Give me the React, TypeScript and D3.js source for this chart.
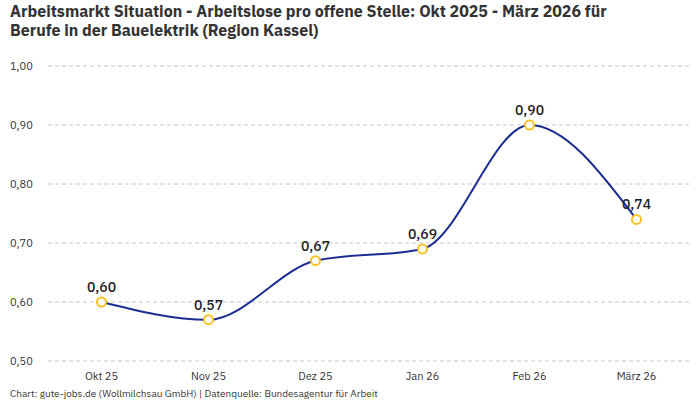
import { useEffect, useRef } from 'react';
import * as d3 from 'd3';

const months = ['Okt 25', 'Nov 25', 'Dez 25', 'Jan 26', 'Feb 26', 'März 26'];
const ratio = [0.6, 0.57, 0.67, 0.69, 0.9, 0.74];
const yTicks = [0.5, 0.6, 0.7, 0.8, 0.9, 1.0];

const titleLines = [
	'Arbeitsmarkt Situation - Arbeitslose pro offene Stelle: Okt 2025 - März 2026 für',
	'Berufe in der Bauelektrik (Region Kassel)',
];
const footer = 'Chart: gute-jobs.de (Wollmilchsau GmbH) | Datenquelle: Bundesagentur für Arbeit';

const fmt = (v: number) => v.toFixed(2).replace('.', ',');

export default function App() {
	const svgRef = useRef<SVGSVGElement>(null);

	useEffect(() => {
		if (!svgRef.current) return;
		const width = 700;
		const height = 400;
		const font = '"IBM Plex Sans", "Noto Sans", sans-serif';

		d3.select(svgRef.current).selectAll('*').remove();
		const svg = d3.select(svgRef.current).attr('width', width).attr('height', height).style('font-family', font);

		svg.append('rect').attr('width', width).attr('height', height).attr('fill', '#fff');

		// Title
		svg
			.append('g')
			.selectAll('text')
			.data(titleLines)
			.enter()
			.append('text')
			.attr('x', 10)
			.attr('y', (_, i) => 17 + i * 19)
			.attr('font-size', 16)
			.attr('font-weight', 700)
			.attr('fill', '#333')
			.text((d) => d);

		const x = d3.scaleBand<string>().domain(months).range([48, 690]).padding(0);
		const y = d3.scaleLinear().domain([0.5, 1.0]).range([361, 66]);
		const cx = (m: string) => (x(m) ?? 0) + x.bandwidth() / 2;

		// Grid + y labels
		const grid = svg.append('g');
		grid
			.selectAll('line')
			.data(yTicks)
			.enter()
			.append('line')
			.attr('x1', 48)
			.attr('x2', 690)
			.attr('y1', (d) => y(d))
			.attr('y2', (d) => y(d))
			.attr('stroke', '#c8c8c8')
			.attr('stroke-dasharray', '4,3');
		grid
			.selectAll('text')
			.data(yTicks)
			.enter()
			.append('text')
			.attr('x', 10)
			.attr('y', (d) => y(d) + 4)
			.attr('font-size', 11)
			.attr('fill', '#333')
			.text((d) => fmt(d));

		// X labels
		svg
			.append('g')
			.selectAll('text')
			.data(months)
			.enter()
			.append('text')
			.attr('x', (d) => cx(d))
			.attr('y', 380)
			.attr('text-anchor', 'middle')
			.attr('font-size', 11)
			.attr('fill', '#333')
			.text((d) => d);

		// Line
		const line = d3
			.line<number>()
			.x((_, i) => cx(months[i]))
			.y((d) => y(d))
			.curve(d3.curveMonotoneX);

		svg
			.append('path')
			.datum(ratio)
			.attr('d', line)
			.attr('fill', 'none')
			.attr('stroke', '#1c2d8f')
			.attr('stroke-width', 2);

		// Points
		svg
			.append('g')
			.selectAll('circle')
			.data(ratio)
			.enter()
			.append('circle')
			.attr('cx', (_, i) => cx(months[i]))
			.attr('cy', (d) => y(d))
			.attr('r', 4.5)
			.attr('fill', '#fff')
			.attr('stroke', '#f7c325')
			.attr('stroke-width', 2);

		// Value labels
		svg
			.append('g')
			.selectAll('text')
			.data(ratio)
			.enter()
			.append('text')
			.attr('x', (_, i) => cx(months[i]))
			.attr('y', (d) => y(d) - 10)
			.attr('text-anchor', 'middle')
			.attr('font-size', 14)
			.attr('font-weight', 500)
			.attr('fill', '#222')
			.text((d) => fmt(d));

		// Footer
		svg
			.append('text')
			.attr('x', 10)
			.attr('y', 397)
			.attr('font-size', 10)
			.attr('fill', '#333')
			.text(footer);
	}, []);

	return (
		<div style={{ position: 'absolute', left: 0, top: 0 }}>
			<svg ref={svgRef} style={{ display: 'block' }}></svg>
		</div>
	);
}
